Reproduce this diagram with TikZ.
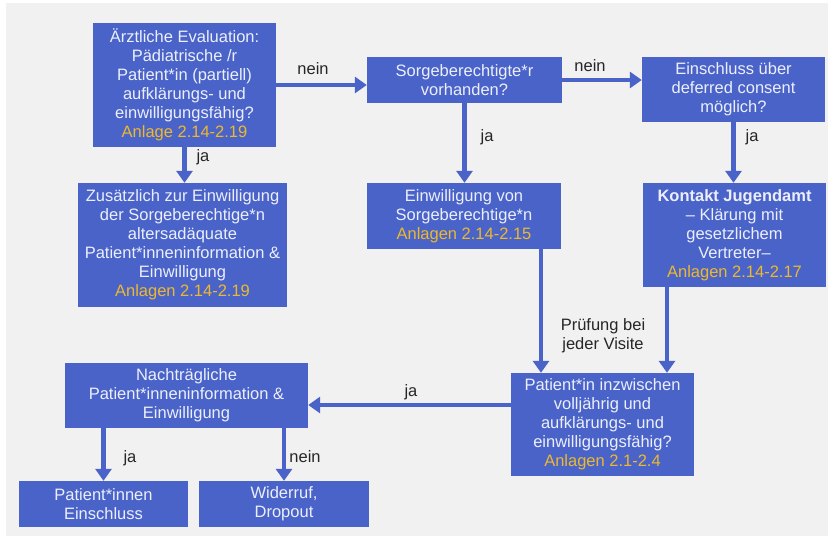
\documentclass[tikz,border=0pt]{standalone}
\usepackage{fontspec}
\setmainfont{Liberation Sans}
\usetikzlibrary{arrows.meta,calc}
\definecolor{boxblue}{HTML}{4A63C9}
\definecolor{bgrey}{HTML}{F1F1F1}
\definecolor{anl}{HTML}{EDB92C}
\definecolor{boxtxt}{HTML}{ECEFFA}
\definecolor{lbl}{HTML}{262626}
\begin{document}
\begin{tikzpicture}[x=1pt,y=-1pt,
  box/.style={fill=boxblue,draw=none,text=boxtxt,align=center,inner sep=0pt,
    font=\fontsize{16.5}{19}\selectfont},
  arr/.style={draw=boxblue,line width=4.5pt,-{Triangle[width=16pt,length=12pt]}},
  lab/.style={text=lbl,font=\fontsize{16.5}{19}\selectfont,align=center,inner sep=0pt},
  anlage/.style={text=anl}]
\useasboundingbox (0,0) rectangle (829,539);
\fill[white] (0,0) rectangle (829,539);
\fill[bgrey] (6,3) rectangle (828,536);

\node[box,minimum width=183pt,minimum height=124pt] (b1) at (184.5,85)
 {Ärztliche Evaluation:\\Pädiatrische /r\\Patient*in (partiell)\\aufklärungs- und\\einwilligungsfähig?\\\textcolor{anl}{Anlage 2.14-2.19}};
\node[box,minimum width=195pt,minimum height=46pt] (b2) at (464.5,80)
 {Sorgeberechtigte*r\\vorhanden?};
\node[box,minimum width=183pt,minimum height=65pt] (b3) at (733.5,89.5)
 {Einschluss über\\deferred consent\\möglich?};
\node[box,minimum width=209pt,minimum height=124pt] (b4) at (182.5,245)
 {Zusätzlich zur Einwilligung\\der Sorgeberechtige*n\\altersadäquate\\Patient*inneninformation \&\\Einwilligung\\\textcolor{anl}{Anlagen 2.14-2.19}};
\node[box,minimum width=194pt,minimum height=66pt] (b5) at (464,216)
 {Einwilligung von\\Sorgeberechtige*n\\\textcolor{anl}{Anlagen 2.14-2.15}};
\node[box,minimum width=183pt,minimum height=104pt] (b6) at (734.5,235)
 {\textbf{Kontakt Jugendamt}\\– Klärung mit\\gesetzlichem\\Vertreter–\\\textcolor{anl}{Anlagen 2.14-2.17}};
\node[box,minimum width=183pt,minimum height=103pt] (b7) at (602.5,424.5)
 {Patient*in inzwischen\\volljährig und\\aufklärungs- und\\einwilligungsfähig?\\\textcolor{anl}{Anlagen 2.1-2.4}};
\node[box,minimum width=243pt,minimum height=65pt] (b8) at (186.5,395.5)
 {Nachträgliche\\Patient*inneninformation \&\\Einwilligung};
\node[box,minimum width=169pt,minimum height=46pt] (b9) at (103.5,504)
 {Patient*innen\\Einschluss};
\node[box,minimum width=170pt,minimum height=46pt] (b10) at (284,504)
 {Widerruf,\\Dropout};

\draw[arr] (b1.east) -- (b1.east -| b2.west);
\draw[arr] (b2.east) -- (b2.east -| b3.west);
\draw[arr] (b1.south) -- (b1.south |- b4.north);
\draw[arr] (b2.south) -- (b2.south |- b5.north);
\draw[arr] (b3.south) -- (b3.south |- b6.north);
\draw[arr] ([xshift=77pt]b5.south) -- ([xshift=77pt]b5.south |- b7.north);
\draw[arr] ([xshift=-67.5pt]b6.south) -- ([xshift=-67.5pt]b6.south |- b7.north);
\draw[arr] ([yshift=19.5pt]b7.west) -- ([yshift=19.5pt]b7.west -| b8.east);
\draw[arr] (b9.north |- b8.south) -- (b9.north);
\draw[arr] (b10.north |- b8.south) -- (b10.north);

\node[lab] (l1) at (313,69) {nein};
\node[lab] (l2) at (590,66) {nein};
\node[lab] (l3) at (203,157) {ja};
\node[lab] (l4) at (487,137) {ja};
\node[lab] (l5) at (752,137) {ja};
\node[lab] (l6) at (603,336) {Prüfung bei\\jeder Visite};
\node[lab] (l7) at (411,392) {ja};
\node[lab] (l8) at (130,458) {ja};
\node[lab] (l9) at (305,457) {nein};
\end{tikzpicture}
\end{document}
